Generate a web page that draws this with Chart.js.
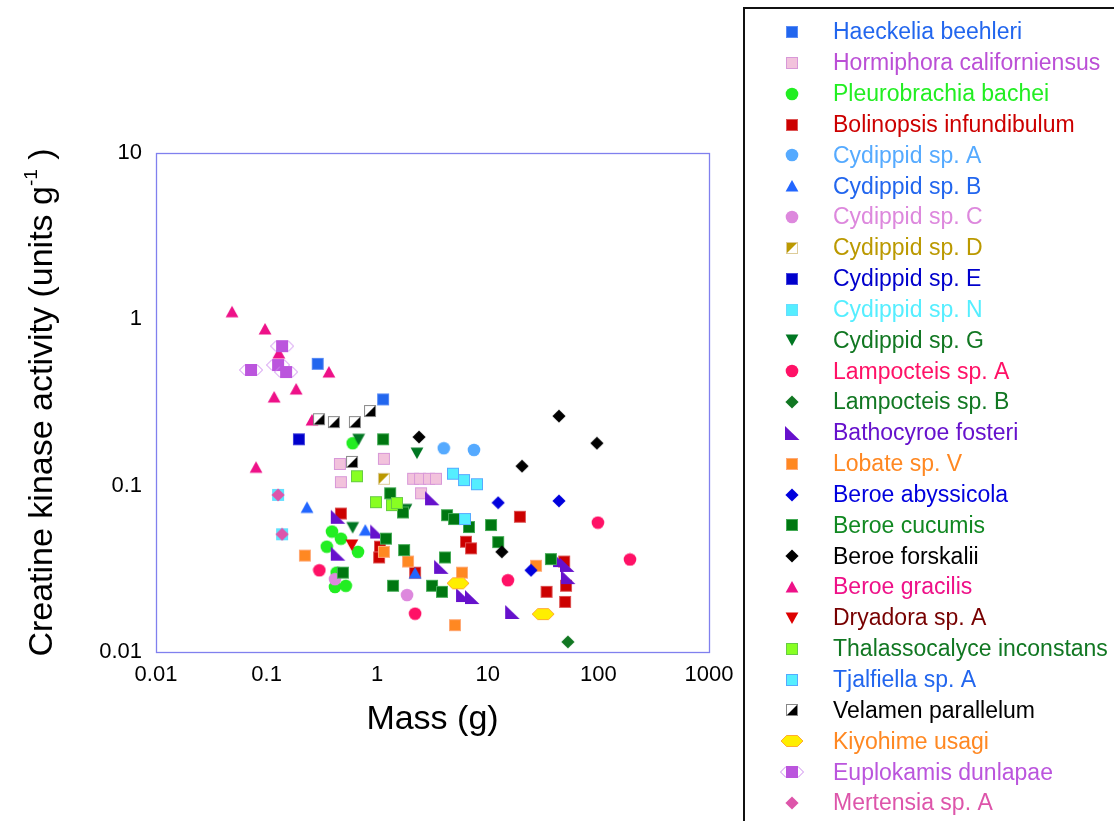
<!DOCTYPE html>
<html>
<head>
<meta charset="utf-8">
<script src="https://cdn.jsdelivr.net/npm/chart.js@4.4.1/dist/chart.umd.min.js"></script>
<style>
  body { margin: 0; background: #fff; }
</style>
</head>
<body>
<canvas id="MyChart" width="1114" height="821"></canvas>
<script>
// values: [mass (g), creatine kinase activity (units g-1)]
const haeckelia = [[0.29, 0.54], [1.13, 0.33]]
const hormiphora = [[0.46, 0.135], [1.15, 0.145], [0.47, 0.105], [2.11, 0.11], [2.44, 0.11], [2.94, 0.11], [3.4, 0.11], [2.49, 0.09]]
const pleurobrachia = [[0.6, 0.18], [0.39, 0.053], [0.47, 0.048], [0.35, 0.043], [0.67, 0.04], [0.43, 0.03], [0.415, 0.0246], [0.52, 0.025]]
const bolinopsis = [[0.47, 0.068], [1.06, 0.043], [1.04, 0.037], [2.2, 0.03], [6.35, 0.046], [7.05, 0.042], [19.5, 0.065], [49, 0.035], [51, 0.025], [34, 0.023], [50, 0.02]]
const cydippidA = [[4.0, 0.168], [7.5, 0.164]]
const cydippidB = [[0.232, 0.074], [0.78, 0.054], [2.2, 0.0298]]
const cydippidC = [[0.415, 0.0274], [1.86, 0.022]]
const cydippidD = [[1.15, 0.11]]
const cydippidE = [[0.196, 0.19]]
const cydippidN = [[0.127, 0.088], [0.138, 0.051]]
const cydippidG = [[0.68, 0.19], [2.29, 0.157], [1.82, 0.072], [0.6, 0.056]]
const lampocteisA = [[0.3, 0.031], [2.2, 0.017], [15.2, 0.027], [99, 0.06], [193, 0.036]]
const lampocteisB = [[53, 0.0115]]
const bathocyroe = [[0.44, 0.065], [3.13, 0.084], [1.0, 0.053], [0.44, 0.039], [3.78, 0.0325], [5.97, 0.022], [7.19, 0.0214], [16.6, 0.0174], [45, 0.0357], [52, 0.0334], [53, 0.0282]]
const lobateV = [[0.222, 0.038], [1.15, 0.04], [1.9, 0.035], [5.84, 0.03], [27.3, 0.033], [5.05, 0.0145]]
const beroeAbyssicola = [[12.4, 0.079], [44, 0.081], [24.6, 0.031]]
const beroeCucumis = [[1.13, 0.19], [1.31, 0.09], [1.71, 0.069], [1.2, 0.048], [1.75, 0.041], [0.49, 0.03], [1.39, 0.025], [3.13, 0.025], [3.85, 0.023], [4.1, 0.037], [4.28, 0.0665], [4.95, 0.063], [6.76, 0.0564], [10.7, 0.058], [12.4, 0.0458], [37.2, 0.0362]]
const beroeForskalii = [[2.39, 0.196], [20.4, 0.131], [44, 0.262], [97, 0.18], [13.4, 0.04]]
const beroeGracilis = [[0.0487, 1.11], [0.0968, 0.875], [0.129, 0.627], [0.366, 0.482], [0.185, 0.381], [0.117, 0.341], [0.257, 0.248], [0.0802, 0.129]]
const dryadora = [[0.59, 0.044]]
const thalassocalyce = [[0.656, 0.114], [0.975, 0.0796], [1.36, 0.0764], [1.51, 0.0786]]
const tjalfiella = [[4.84, 0.118], [6.1, 0.108], [7.98, 0.102], [6.22, 0.063]]
const velamen = [[0.298, 0.251], [0.406, 0.241], [0.629, 0.241], [0.861, 0.281], [0.592, 0.139]]
const kiyohime = [[5.38, 0.0259], [31.6, 0.0169]]
const euplokamis = [[0.138, 0.69], [0.127, 0.531], [0.15, 0.482], [0.0723, 0.496]]
const mertensia = [[0.127, 0.088], [0.138, 0.051]]

const xTicks = [0.01, 0.1, 1, 10, 100, 1000]
const yTicks = [0.01, 0.1, 1, 10]

const species = [
  {name: 'Haeckelia beehleri', data: haeckelia, kind: 'square', fill: '#2266ee', line: '#5a8cf5', text: '#2266ee'},
  {name: 'Hormiphora californiensus', data: hormiphora, kind: 'square', fill: '#f2c2dc', line: '#d898d8', text: '#bb4fd6'},
  {name: 'Pleurobrachia bachei', data: pleurobrachia, kind: 'circle', fill: '#22ee22', text: '#22ee22'},
  {name: 'Bolinopsis infundibulum', data: bolinopsis, kind: 'square', fill: '#cc0000', line: '#dd5555', text: '#cc0000'},
  {name: 'Cydippid sp. A', data: cydippidA, kind: 'circle', fill: '#55aaff', text: '#55aaff'},
  {name: 'Cydippid sp. B', data: cydippidB, kind: 'triUp', fill: '#2266ff', text: '#2266ee'},
  {name: 'Cydippid sp. C', data: cydippidC, kind: 'circle', fill: '#dd88dd', text: '#dd88dd'},
  {name: 'Cydippid sp. D', data: cydippidD, kind: 'halfD', fill: '#bb9900', line: '#ddcc99', text: '#bb9900'},
  {name: 'Cydippid sp. E', data: cydippidE, kind: 'square', fill: '#0000cc', line: '#4444dd', text: '#0000cc'},
  {name: 'Cydippid sp. N', data: cydippidN, kind: 'square', fill: '#55eeff', line: '#66ddff', text: '#55eeff'},
  {name: 'Cydippid sp. G', data: cydippidG, kind: 'triDown', fill: '#007722', text: '#117722'},
  {name: 'Lampocteis sp. A', data: lampocteisA, kind: 'circle', fill: '#ff1166', text: '#ff1166'},
  {name: 'Lampocteis sp. B', data: lampocteisB, kind: 'diamond', fill: '#117722', text: '#117722'},
  {name: 'Bathocyroe fosteri', data: bathocyroe, kind: 'rightTri', fill: '#6611cc', text: '#6611cc'},
  {name: 'Lobate sp. V', data: lobateV, kind: 'square', fill: '#ff8822', line: '#ffaa77', text: '#ff8822'},
  {name: 'Beroe abyssicola', data: beroeAbyssicola, kind: 'diamond', fill: '#0000dd', text: '#0000dd'},
  {name: 'Beroe cucumis', data: beroeCucumis, kind: 'square', fill: '#007711', line: '#44aa55', text: '#118822'},
  {name: 'Beroe forskalii', data: beroeForskalii, kind: 'diamond', fill: '#000000', text: '#000000'},
  {name: 'Beroe gracilis', data: beroeGracilis, kind: 'triUp', fill: '#ee1188', text: '#ee1188'},
  {name: 'Dryadora sp. A', data: dryadora, kind: 'triDown', fill: '#dd0000', text: '#770000'},
  {name: 'Thalassocalyce inconstans', data: thalassocalyce, kind: 'square', fill: '#88ff22', line: '#66cc44', text: '#117722'},
  {name: 'Tjalfiella sp. A', data: tjalfiella, kind: 'square', fill: '#55eeff', line: '#55aaff', text: '#2266ee'},
  {name: 'Velamen parallelum', data: velamen, kind: 'halfV', fill: '#000000', line: '#888888', text: '#000000'},
  {name: 'Kiyohime usagi', data: kiyohime, kind: 'hexagon', fill: '#ffee00', line: '#ffaa33', text: '#ff8822'},
  {name: 'Euplokamis dunlapae', data: euplokamis, kind: 'euplo', fill: '#bb55dd', line: '#cc88ee', text: '#bb55dd'},
  {name: 'Mertensia sp. A', data: mertensia, kind: 'diamond', fill: '#dd55aa', text: '#dd55aa'}
]

const FONT = '"Liberation Sans", Arial, sans-serif'

function makeMarker(s) {
  const c = document.createElement('canvas')
  const wide = s.kind === 'hexagon' || s.kind === 'euplo'
  c.width = wide ? 24 : (s.kind === 'rightTri' ? 16 : 14)
  c.height = s.kind === 'rightTri' ? 16 : 14
  const g = c.getContext('2d')
  const cx = c.width / 2, cy = c.height / 2
  g.fillStyle = s.fill
  g.strokeStyle = s.line || s.fill
  g.lineWidth = 1
  g.beginPath()
  if (s.kind === 'square') {
    g.fillRect(1, 1, 12, 12)
    g.strokeRect(1.5, 1.5, 11, 11)
  } else if (s.kind === 'circle') {
    g.arc(cx, cy, 6.3, 0, Math.PI * 2)
    g.fill()
  } else if (s.kind === 'triUp') {
    g.moveTo(cx, cy - 6); g.lineTo(cx + 6.4, cy + 5.6); g.lineTo(cx - 6.4, cy + 5.6)
    g.closePath(); g.fill()
  } else if (s.kind === 'triDown') {
    g.moveTo(cx, cy + 6); g.lineTo(cx + 6.4, cy - 5.6); g.lineTo(cx - 6.4, cy - 5.6)
    g.closePath(); g.fill()
  } else if (s.kind === 'diamond') {
    g.moveTo(cx, cy - 6.6); g.lineTo(cx + 6.6, cy); g.lineTo(cx, cy + 6.6); g.lineTo(cx - 6.6, cy)
    g.closePath(); g.fill()
  } else if (s.kind === 'rightTri') {
    g.moveTo(1, 1); g.lineTo(1, 15); g.lineTo(15.5, 15)
    g.closePath(); g.fill()
  } else if (s.kind === 'halfV') {
    g.fillStyle = '#fff'; g.fillRect(1, 1, 12, 12)
    g.fillStyle = s.fill
    g.moveTo(13, 1); g.lineTo(13, 13); g.lineTo(1, 13); g.closePath(); g.fill()
    g.strokeRect(1.5, 1.5, 11, 11)
  } else if (s.kind === 'halfD') {
    g.fillStyle = '#fff'; g.fillRect(1, 1, 12, 12)
    g.fillStyle = s.fill
    g.moveTo(1, 1); g.lineTo(13, 1); g.lineTo(1, 13); g.closePath(); g.fill()
    g.strokeRect(1.5, 1.5, 11, 11)
  } else if (s.kind === 'hexagon') {
    g.moveTo(1, 7); g.lineTo(6.5, 1.5); g.lineTo(17.5, 1.5); g.lineTo(23, 7); g.lineTo(17.5, 12.5); g.lineTo(6.5, 12.5)
    g.closePath(); g.fill(); g.stroke()
  } else if (s.kind === 'euplo') {
    g.moveTo(0.5, 7); g.lineTo(6, 1.5); g.lineTo(18, 1.5); g.lineTo(23.5, 7); g.lineTo(18, 12.5); g.lineTo(6, 12.5)
    g.closePath(); g.stroke()
    g.fillRect(6, 1, 12, 12)
  }
  return c
}

species.forEach(s => { s.marker = makeMarker(s) })

const datasets = species.map((s, i) => ({
  label: s.name,
  data: s.data.map(p => ({x: p[0], y: p[1]})),
  pointStyle: s.marker,
  pointRadius: 6,
  showLine: false,
  order: -i
}))

const decor = {
  id: 'decor',
  beforeDatasetsDraw(chart) {
    const {ctx, chartArea: a} = chart
    ctx.save()
    ctx.strokeStyle = '#8080ee'
    ctx.lineWidth = 1.3
    ctx.strokeRect(a.left + 0.5, a.top + 0.5, a.right - a.left, a.bottom - a.top)
    ctx.restore()
  },
  afterDraw(chart) {
    const {ctx, chartArea: a} = chart
    ctx.save()
    // legend box
    ctx.strokeStyle = '#111'
    ctx.lineWidth = 2
    ctx.strokeRect(744, 8, 400, 840)
    ctx.font = '23px ' + FONT
    ctx.textBaseline = 'middle'
    ctx.textAlign = 'left'
    species.forEach((s, i) => {
      const y = 32 + i * 30.84
      const m = s.marker
      ctx.drawImage(m, Math.round(792 - m.width / 2), Math.round(y - m.height / 2))
      ctx.fillStyle = s.text
      ctx.fillText(s.name, 833, y + 1)
    })
    // axis titles
    ctx.fillStyle = '#000'
    ctx.textAlign = 'center'
    ctx.font = '34px ' + FONT
    ctx.fillText('Mass (g)', (a.left + a.right) / 2, 720)

    const main = 'Creatine kinase activity (units g'
    const sup = '-1'
    const tail = ' )'
    ctx.font = '34px ' + FONT
    const w1 = ctx.measureText(main).width
    const w3 = ctx.measureText(tail).width
    ctx.font = '19px ' + FONT
    const w2 = ctx.measureText(sup).width
    const total = w1 + w2 + w3
    ctx.translate(52, (a.top + a.bottom) / 2)
    ctx.rotate(-Math.PI / 2)
    ctx.textAlign = 'left'
    ctx.textBaseline = 'alphabetic'
    let x = -total / 2
    ctx.font = '34px ' + FONT
    ctx.fillText(main, x, 0)
    x += w1
    ctx.font = '19px ' + FONT
    ctx.fillText(sup, x, -15)
    x += w2
    ctx.font = '34px ' + FONT
    ctx.fillText(tail, x, 0)
    ctx.restore()
  }
}

const ctx = document.getElementById('MyChart').getContext('2d')

new Chart(ctx, {
  type: 'scatter',
  data: {datasets: datasets},
  options: {
    responsive: false,
    animation: false,
    layout: {padding: {top: 153, right: 405, left: 0, bottom: 0}},
    plugins: {
      legend: {display: false},
      tooltip: {enabled: false}
    },
    scales: {
      x: {
        type: 'logarithmic',
        min: 0.01,
        max: 1000,
        grid: {display: false, drawTicks: false},
        border: {display: false},
        afterBuildTicks: axis => { axis.ticks = xTicks.map(v => ({value: v})) },
        afterFit: axis => { axis.height = 169 },
        ticks: {
          autoSkip: false,
          maxRotation: 0,
          padding: 10,
          color: '#000',
          font: {family: FONT, size: 22},
          callback: v => String(v)
        }
      },
      y: {
        type: 'logarithmic',
        min: 0.01,
        max: 10,
        grid: {display: false, drawTicks: false},
        border: {display: false},
        afterBuildTicks: axis => { axis.ticks = yTicks.map(v => ({value: v})) },
        afterFit: axis => { axis.width = 156 },
        ticks: {
          autoSkip: false,
          padding: 14,
          color: '#000',
          font: {family: FONT, size: 22},
          callback: v => String(v)
        }
      }
    }
  },
  plugins: [decor]
})
</script>
</body>
</html>
